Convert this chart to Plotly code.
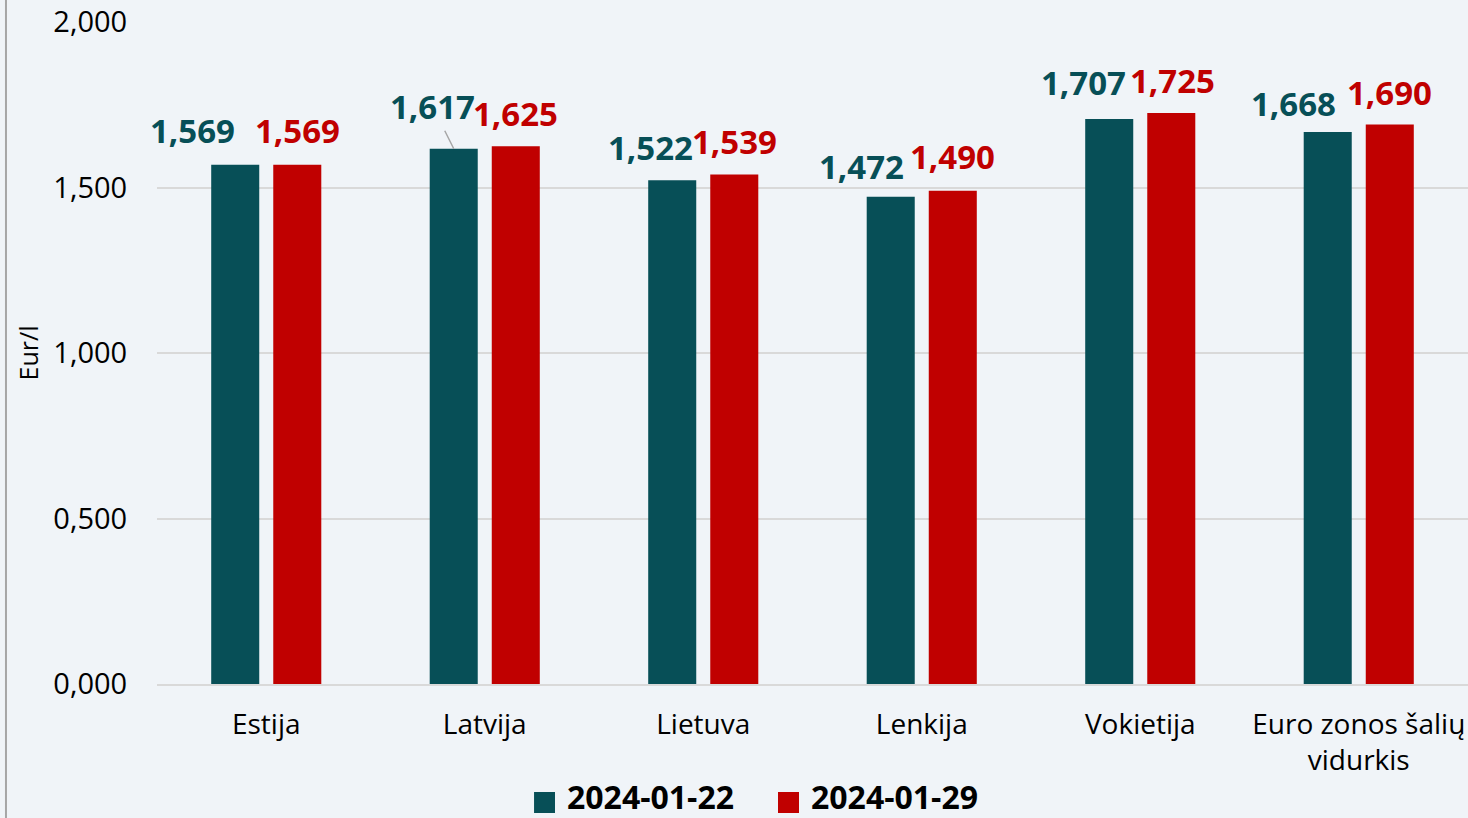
import plotly.graph_objects as go

categories = ["Estija", "Latvija", "Lietuva", "Lenkija", "Vokietija", "Euro zonos šalių<br>vidurkis"]
series_names = ["2024-01-22", "2024-01-29"]
values_0122 = [1.569, 1.617, 1.522, 1.472, 1.707, 1.668]
values_0129 = [1.569, 1.625, 1.539, 1.490, 1.725, 1.690]
y_ticks = [0, 0.5, 1.0, 1.5, 2.0]

teal = "#074F57"
red = "#C00000"
bg = "#F0F4F8"
font = "Open Sans"

# label placement (pixel offsets from category centre / bar top)
dx_0122 = [-74, -52, -53, -60, -57, -65]
dy_0122 = [34, 42, 33, 30, 36, 28]
dx_0129 = [31, 31, 31, 31, 32, 31]
dy_0129 = [34, 33, 33, 34, 33, 32]

fig = go.Figure()
fig.add_trace(go.Bar(x=categories, y=values_0122, name=series_names[0],
                     marker=dict(color=teal, line=dict(width=0))))
fig.add_trace(go.Bar(x=categories, y=values_0129, name=series_names[1],
                     marker=dict(color=red, line=dict(width=0))))

def fmt(v):
    return f"{v:.3f}".replace(".", ",")

for i, c in enumerate(categories):
    if i == 1:
        fig.add_annotation(x=c, y=values_0122[i], xref="x", yref="y",
                           text=fmt(values_0122[i]), showarrow=True,
                           arrowhead=0, arrowwidth=1.5, arrowcolor="#A6A6A6",
                           xshift=-31, ax=dx_0122[i] + 31, ay=-dy_0122[i],
                           standoff=0, startstandoff=0,
                           font=dict(family=font, size=33, color=teal, weight="bold"))
    else:
        fig.add_annotation(x=c, y=values_0122[i], xref="x", yref="y",
                           text=fmt(values_0122[i]), showarrow=False,
                           xshift=dx_0122[i], yshift=dy_0122[i],
                           font=dict(family=font, size=33, color=teal, weight="bold"))
    fig.add_annotation(x=c, y=values_0129[i], xref="x", yref="y",
                       text=fmt(values_0129[i]), showarrow=False,
                       xshift=dx_0129[i], yshift=dy_0129[i],
                       font=dict(family=font, size=33, color=red, weight="bold"))

# left border line
fig.add_shape(type="line", xref="paper", yref="paper",
              x0=-0.1152, x1=-0.1152, y0=-0.3, y1=1.1,
              line=dict(color="#A6A6A6", width=2))

# legend (drawn manually so the swatches match the reference size)
legend_sq_x = [0.2876, 0.4737]
legend_tx_x = [0.3112, 0.4973]
for name, col, sx, tx in zip(series_names, [teal, red], legend_sq_x, legend_tx_x):
    fig.add_shape(type="rect", xref="paper", yref="paper",
                  x0=sx, x1=sx + 0.016, y0=-0.1949, y1=-0.1631,
                  fillcolor=col, line=dict(width=0))
    fig.add_annotation(x=tx, y=-0.1692, xref="paper", yref="paper",
                       xanchor="left", yanchor="middle", showarrow=False,
                       text=name,
                       font=dict(family=font, size=32, color="#000000", weight="bold"))

fig.update_layout(
    width=1468, height=818,
    margin=dict(l=157, r=0, t=22, b=134, autoexpand=False),
    paper_bgcolor=bg, plot_bgcolor=bg,
    barmode="group", bargap=0.432, bargroupgap=0.226,
    separators=",.",
    font=dict(family=font, color="#000000"),
    showlegend=False,
    xaxis=dict(range=[-0.5, 5.5], showgrid=False, showline=True,
               linecolor="#D9D9D9", linewidth=2, automargin=False,
               ticks="outside", ticklen=14, tickcolor="rgba(0,0,0,0)",
               tickfont=dict(family=font, size=28, color="#000000")),
    yaxis=dict(range=[0, 2.0], tickvals=y_ticks, tickformat=".3f",
               automargin=False,
               showgrid=True, gridcolor="#D9D9D9", gridwidth=2,
               zeroline=False, showline=False,
               ticks="outside", ticklen=23, tickcolor="rgba(0,0,0,0)",
               tickfont=dict(family=font, size=29, color="#000000"),
               title=dict(text="Eur/l", font=dict(family=font, size=25, color="#000000"),
                          standoff=7)),
)

fig.write_html("out.html", config={"displayModeBar": False},
               post_script="document.body.style.margin='0';")
